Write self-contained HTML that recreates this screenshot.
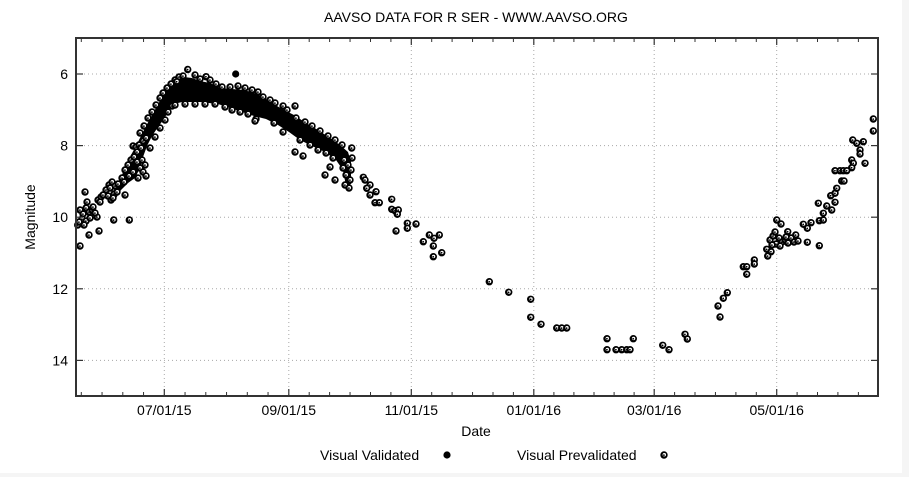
<!DOCTYPE html>
<html><head><meta charset="utf-8"><style>
html,body{margin:0;padding:0;background:#f5f5f5;}
svg{display:block;}
text{font-family:"Liberation Sans",Arial,sans-serif;font-size:14px;fill:#000;}
</style></head><body>
<svg width="909" height="477" viewBox="0 0 909 477" xmlns="http://www.w3.org/2000/svg">
<defs>
<g id="m"><circle r="3.7" fill="#000"/><circle cx="0.3" cy="-0.3" r="1.7" fill="#fff"/><circle cx="-0.1" cy="0.1" r="0.9" fill="#000"/></g>
</defs>
<rect x="0" y="0" width="902" height="473" fill="#fff"/>
<!-- grid -->
<g stroke="#a8a8a8" stroke-width="1" stroke-dasharray="1,3" fill="none">
<line x1="76" y1="74" x2="878" y2="74"/>
<line x1="76" y1="145.6" x2="878" y2="145.6"/>
<line x1="76" y1="217.2" x2="878" y2="217.2"/>
<line x1="76" y1="288.8" x2="878" y2="288.8"/>
<line x1="76" y1="360.4" x2="878" y2="360.4"/>
<line x1="164.3" y1="38" x2="164.3" y2="396"/>
<line x1="288.8" y1="38" x2="288.8" y2="396"/>
<line x1="411.3" y1="38" x2="411.3" y2="396"/>
<line x1="533.8" y1="38" x2="533.8" y2="396"/>
<line x1="654.2" y1="38" x2="654.2" y2="396"/>
<line x1="776.7" y1="38" x2="776.7" y2="396"/>
</g>
<!-- dense core -->
<polygon fill="#000" points="112,196 116,186 121,177 126,166 131,155 136,146 141,136 146,126 151,117 156,108 161,99 166,91 171,85 177,80 184,77 192,78 200,81 210,83 220,88 232,89 244,90 254,93 263,97 272,103 282,109 294,115 306,123 318,130 330,138 340,145 348,152 351,162 351,184 346,186 343,170 336,160 325,152 312,146 300,140 289,132 278,125 266,119 254,116 242,112 230,108 218,104 200,102 182,102 174,104 169,110 164,119 158,127 152,136 147,146 143,157 140,168 135,178 128,183 121,190 115,200"/>
<g>
<use href="#m" x="77.7" y="225"/><use href="#m" x="80" y="246"/><use href="#m" x="85" y="192"/><use href="#m" x="87" y="202"/>
<use href="#m" x="89" y="235"/><use href="#m" x="99" y="231"/><use href="#m" x="97" y="217"/><use href="#m" x="113.7" y="220"/><use href="#m" x="129.3" y="220"/>
<use href="#m" x="80" y="210"/><use href="#m" x="83" y="214"/><use href="#m" x="86" y="208"/><use href="#m" x="89" y="212"/><use href="#m" x="92" y="210"/><use href="#m" x="95" y="213"/><use href="#m" x="82" y="219"/><use href="#m" x="86" y="221"/><use href="#m" x="90" y="218"/><use href="#m" x="79" y="222"/><use href="#m" x="84" y="225"/><use href="#m" x="93" y="207"/>
<use href="#m" x="98" y="200"/><use href="#m" x="101" y="197"/><use href="#m" x="103" y="195"/><use href="#m" x="100" y="202"/>
<use href="#m" x="106" y="190"/><use href="#m" x="109" y="185"/><use href="#m" x="112" y="182"/><use href="#m" x="115" y="186"/><use href="#m" x="118" y="184"/><use href="#m" x="108" y="196"/><use href="#m" x="111" y="200"/><use href="#m" x="114" y="194"/><use href="#m" x="117" y="192"/><use href="#m" x="110" y="188"/><use href="#m" x="113" y="198"/>
<use href="#m" x="125" y="195"/>
<use href="#m" x="122" y="178"/><use href="#m" x="125" y="170"/><use href="#m" x="128" y="165"/><use href="#m" x="131" y="160"/><use href="#m" x="134" y="157"/><use href="#m" x="137" y="162"/><use href="#m" x="140" y="168"/><use href="#m" x="143" y="172"/><use href="#m" x="146" y="176"/><use href="#m" x="124" y="182"/><use href="#m" x="129" y="176"/><use href="#m" x="133" y="172"/><use href="#m" x="138" y="178"/><use href="#m" x="142" y="160"/><use href="#m" x="145" y="165"/>
<use href="#m" x="133" y="146"/><use href="#m" x="136" y="147"/><use href="#m" x="139" y="145"/><use href="#m" x="143" y="141"/><use href="#m" x="146" y="138"/><use href="#m" x="137" y="152"/><use href="#m" x="141" y="148"/>
<use href="#m" x="140" y="133"/><use href="#m" x="144" y="126"/><use href="#m" x="148" y="118"/><use href="#m" x="152" y="112"/><use href="#m" x="156" y="105"/><use href="#m" x="160" y="98"/><use href="#m" x="163" y="93"/><use href="#m" x="167" y="88"/><use href="#m" x="171" y="84"/><use href="#m" x="175" y="80"/><use href="#m" x="179" y="77"/><use href="#m" x="183" y="76"/><use href="#m" x="187.7" y="69.5"/><use href="#m" x="176.7" y="81.7"/><use href="#m" x="206" y="76.7"/>
<use href="#m" x="150" y="148"/><use href="#m" x="155" y="137"/><use href="#m" x="160" y="128"/><use href="#m" x="165" y="120"/><use href="#m" x="168" y="112"/><use href="#m" x="172" y="106"/>
<use href="#m" x="195" y="75"/><use href="#m" x="200" y="79"/><use href="#m" x="210" y="80"/><use href="#m" x="216" y="84"/><use href="#m" x="222" y="87"/><use href="#m" x="230" y="87"/><use href="#m" x="238" y="86"/><use href="#m" x="245" y="88"/><use href="#m" x="252" y="90"/><use href="#m" x="258" y="92"/>
<use href="#m" x="175" y="105"/><use href="#m" x="185" y="104"/><use href="#m" x="195" y="104"/><use href="#m" x="205" y="104"/><use href="#m" x="215" y="104"/><use href="#m" x="225" y="107"/><use href="#m" x="232" y="110"/><use href="#m" x="240" y="112"/><use href="#m" x="248" y="114"/><use href="#m" x="256" y="119"/><use href="#m" x="255" y="121"/>
<use href="#m" x="263" y="97"/><use href="#m" x="270" y="100"/><use href="#m" x="275" y="103"/><use href="#m" x="283" y="106"/><use href="#m" x="295" y="106"/><use href="#m" x="287" y="110"/><use href="#m" x="274" y="123"/><use href="#m" x="283" y="132"/><use href="#m" x="295" y="152"/><use href="#m" x="303" y="156"/><use href="#m" x="296" y="118"/><use href="#m" x="305" y="122"/><use href="#m" x="312" y="126"/><use href="#m" x="320" y="131"/><use href="#m" x="328" y="136"/><use href="#m" x="335" y="140"/><use href="#m" x="342" y="145"/><use href="#m" x="351.7" y="148"/><use href="#m" x="300" y="140"/><use href="#m" x="310" y="145"/><use href="#m" x="318" y="150"/><use href="#m" x="326" y="153"/><use href="#m" x="333" y="158"/>
<use href="#m" x="344" y="160"/><use href="#m" x="348" y="165"/><use href="#m" x="351" y="170"/><use href="#m" x="346" y="175"/><use href="#m" x="350" y="180"/><use href="#m" x="345" y="185"/><use href="#m" x="349" y="188"/><use href="#m" x="352" y="158"/><use href="#m" x="343" y="168"/>
<use href="#m" x="330" y="167"/><use href="#m" x="325" y="175"/><use href="#m" x="335" y="180"/>
<use href="#m" x="363.3" y="177.3"/><use href="#m" x="365" y="180"/><use href="#m" x="370" y="185"/><use href="#m" x="366.7" y="188.3"/><use href="#m" x="370" y="195"/><use href="#m" x="376" y="191.7"/><use href="#m" x="375" y="202.7"/><use href="#m" x="379.3" y="202.7"/><use href="#m" x="391.7" y="199.3"/><use href="#m" x="391.7" y="209.3"/><use href="#m" x="395" y="210.7"/><use href="#m" x="398.3" y="210"/><use href="#m" x="397.3" y="214.3"/><use href="#m" x="407.3" y="223.3"/><use href="#m" x="407.3" y="228.3"/><use href="#m" x="416" y="224"/><use href="#m" x="396" y="231"/><use href="#m" x="429.3" y="235"/><use href="#m" x="439.3" y="235"/><use href="#m" x="434" y="238.3"/><use href="#m" x="423.3" y="241.7"/><use href="#m" x="433.3" y="246"/><use href="#m" x="441.7" y="252.7"/><use href="#m" x="433.3" y="256.7"/>
<use href="#m" x="489.3" y="281.7"/><use href="#m" x="508.7" y="292.3"/><use href="#m" x="530.7" y="299.3"/><use href="#m" x="530.7" y="317.3"/><use href="#m" x="541" y="324.3"/><use href="#m" x="556.7" y="328"/><use href="#m" x="561.7" y="328"/><use href="#m" x="566.7" y="328"/>
<use href="#m" x="607" y="338.7"/><use href="#m" x="607" y="349.7"/><use href="#m" x="616" y="349.7"/><use href="#m" x="621.7" y="349.7"/><use href="#m" x="626.7" y="349.7"/><use href="#m" x="630" y="349.7"/><use href="#m" x="633.3" y="338.7"/><use href="#m" x="662.7" y="345.3"/><use href="#m" x="669" y="349.7"/><use href="#m" x="685" y="334.3"/><use href="#m" x="687.3" y="339"/>
<use href="#m" x="718" y="306"/><use href="#m" x="720" y="317"/><use href="#m" x="723.3" y="298.3"/><use href="#m" x="727.3" y="292.7"/><use href="#m" x="743.3" y="266.7"/><use href="#m" x="746.7" y="266.7"/><use href="#m" x="746.7" y="274.3"/><use href="#m" x="754.3" y="260"/><use href="#m" x="754.3" y="264"/><use href="#m" x="766.7" y="249.3"/><use href="#m" x="767.7" y="256"/><use href="#m" x="771" y="251.7"/>
<use href="#m" x="770" y="240"/><use href="#m" x="773" y="236"/><use href="#m" x="776" y="244"/><use href="#m" x="779" y="238"/><use href="#m" x="782" y="242"/><use href="#m" x="785" y="240"/><use href="#m" x="788" y="243"/><use href="#m" x="791" y="238"/><use href="#m" x="794" y="242"/><use href="#m" x="798" y="241"/><use href="#m" x="772" y="245"/><use href="#m" x="780" y="246"/><use href="#m" x="786" y="237"/><use href="#m" x="775" y="232"/>
<use href="#m" x="776.7" y="220"/><use href="#m" x="781" y="224"/><use href="#m" x="787.7" y="231.7"/><use href="#m" x="795.7" y="235"/><use href="#m" x="807.3" y="242.3"/><use href="#m" x="803.3" y="224.3"/><use href="#m" x="807.3" y="228.3"/><use href="#m" x="811" y="222.7"/><use href="#m" x="819.3" y="245.7"/><use href="#m" x="818.3" y="203.3"/><use href="#m" x="819.3" y="220.7"/><use href="#m" x="823.3" y="220"/><use href="#m" x="823.3" y="213.3"/><use href="#m" x="826.7" y="206"/><use href="#m" x="831.7" y="210"/><use href="#m" x="830.7" y="195.7"/><use href="#m" x="835" y="202.3"/><use href="#m" x="835" y="193.3"/><use href="#m" x="836.7" y="188.3"/><use href="#m" x="841.7" y="181"/><use href="#m" x="844" y="181"/><use href="#m" x="835" y="170.7"/><use href="#m" x="840" y="170.7"/><use href="#m" x="843.3" y="170.7"/><use href="#m" x="846.7" y="170.7"/><use href="#m" x="851.7" y="160"/><use href="#m" x="853.3" y="163.3"/><use href="#m" x="851.7" y="167.7"/><use href="#m" x="852.7" y="140"/><use href="#m" x="856.7" y="143.3"/><use href="#m" x="860" y="150"/><use href="#m" x="860" y="154"/><use href="#m" x="863.3" y="141.7"/><use href="#m" x="865" y="163.3"/><use href="#m" x="873.3" y="119"/><use href="#m" x="873.3" y="131"/>
</g>
<circle cx="235.7" cy="74" r="3.6" fill="#000"/>
<!-- frame & ticks -->
<rect x="76" y="38" width="802" height="358" fill="none" stroke="#333" stroke-width="2"/>
<g stroke="#333" stroke-width="1.2">
<line x1="76" y1="74" x2="83" y2="74"/><line x1="76" y1="145.6" x2="83" y2="145.6"/><line x1="76" y1="217.2" x2="83" y2="217.2"/><line x1="76" y1="288.8" x2="83" y2="288.8"/><line x1="76" y1="360.4" x2="83" y2="360.4"/>
<line x1="871" y1="74" x2="878" y2="74"/><line x1="871" y1="145.6" x2="878" y2="145.6"/><line x1="871" y1="217.2" x2="878" y2="217.2"/><line x1="871" y1="288.8" x2="878" y2="288.8"/><line x1="871" y1="360.4" x2="878" y2="360.4"/>
<line x1="164.3" y1="396" x2="164.3" y2="389"/><line x1="288.8" y1="396" x2="288.8" y2="389"/><line x1="411.3" y1="396" x2="411.3" y2="389"/><line x1="533.8" y1="396" x2="533.8" y2="389"/><line x1="654.2" y1="396" x2="654.2" y2="389"/><line x1="776.7" y1="396" x2="776.7" y2="389"/>
<line x1="164.3" y1="38" x2="164.3" y2="45"/><line x1="288.8" y1="38" x2="288.8" y2="45"/><line x1="411.3" y1="38" x2="411.3" y2="45"/><line x1="533.8" y1="38" x2="533.8" y2="45"/><line x1="654.2" y1="38" x2="654.2" y2="45"/><line x1="776.7" y1="38" x2="776.7" y2="45"/>
</g>
<g stroke="#333" stroke-width="1">
<path d="M81.3 396v-4M102.05 396v-4M122.8 396v-4M143.55 396v-4M185.05 396v-4M205.8 396v-4M226.55 396v-4M247.3 396v-4M268.05 396v-4M309.2 396v-4M329.6 396v-4M350.05 396v-4M370.5 396v-4M390.9 396v-4M431.7 396v-4M452.1 396v-4M472.55 396v-4M493 396v-4M513.4 396v-4M553.9 396v-4M573.9 396v-4M594 396v-4M614.1 396v-4M634.1 396v-4M674.6 396v-4M695 396v-4M715.45 396v-4M735.9 396v-4M756.3 396v-4M797.1 396v-4M817.5 396v-4M837.9 396v-4M858.4 396v-4"/>
<path d="M81.3 38v4M102.05 38v4M122.8 38v4M143.55 38v4M185.05 38v4M205.8 38v4M226.55 38v4M247.3 38v4M268.05 38v4M309.2 38v4M329.6 38v4M350.05 38v4M370.5 38v4M390.9 38v4M431.7 38v4M452.1 38v4M472.55 38v4M493 38v4M513.4 38v4M553.9 38v4M573.9 38v4M594 38v4M614.1 38v4M634.1 38v4M674.6 38v4M695 38v4M715.45 38v4M735.9 38v4M756.3 38v4M797.1 38v4M817.5 38v4M837.9 38v4M858.4 38v4"/>
</g>
<!-- labels -->
<text x="476" y="22" text-anchor="middle">AAVSO DATA FOR R SER - WWW.AAVSO.ORG</text>
<g text-anchor="end">
<text x="68" y="79">6</text><text x="68" y="150.6">8</text><text x="68" y="222.2">10</text><text x="68" y="293.8">12</text><text x="68" y="365.4">14</text>
</g>
<g text-anchor="middle">
<text x="164.3" y="415">07/01/15</text><text x="288.8" y="415">09/01/15</text><text x="411.3" y="415">11/01/15</text><text x="533.8" y="415">01/01/16</text><text x="654.2" y="415">03/01/16</text><text x="776.7" y="415">05/01/16</text>
<text x="476" y="436">Date</text>
<text x="0" y="0" transform="translate(35,217) rotate(-90)">Magnitude</text>
</g>
<text x="320" y="460">Visual Validated</text>
<circle cx="447" cy="455" r="3.6" fill="#000"/>
<text x="517" y="460">Visual Prevalidated</text>
<use href="#m" x="664" y="455"/>
</svg>
</body></html>
